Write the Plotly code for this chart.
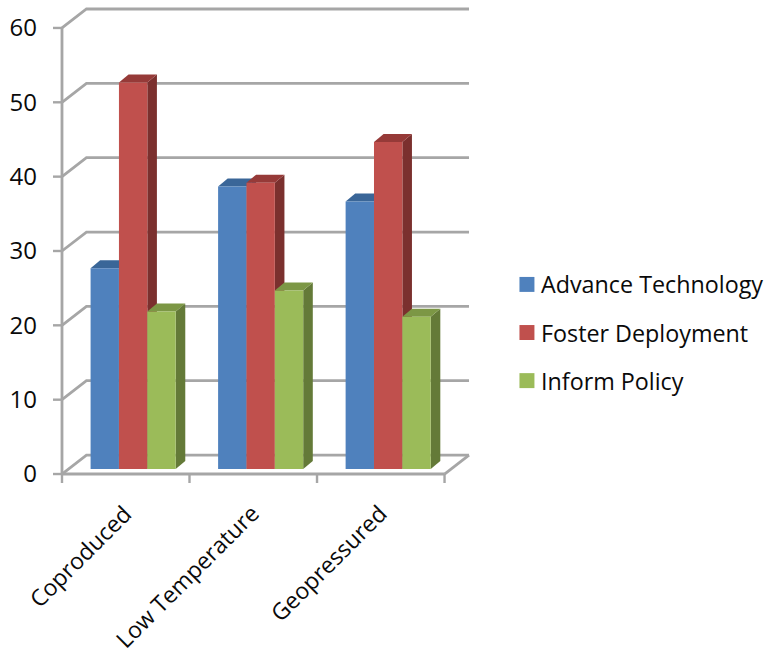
import plotly.graph_objects as go

# Chart data
categories = ["Coproduced", "Low Temperature", "Geopressured"]
series_names = ["Advance Technology", "Foster Deployment", "Inform Policy"]
advance_technology = [27, 38, 36]
foster_deployment = [52, 38.5, 44]
inform_policy = [21.2, 24, 20.5]
y_ticks = [0, 10, 20, 30, 40, 50, 60]

series_values = [advance_technology, foster_deployment, inform_policy]
front_colors = ["#4F81BD", "#C0504D", "#9BBB59"]
top_colors = ["#3A6698", "#963A38", "#7C9745"]
side_colors = ["#2F5585", "#7B302E", "#647A38"]

GRID = "#A6A6A6"
INK = "#0A0A0A"
FONT = "Open Sans"

# Canvas and plot frame, pixels
W, H = 767, 654
LEFT, BOTTOM_Y = 62.0, 474.5
CAT_PX, UNIT_PX = 383 / 3, 7.45
WALL_DX, WALL_DY = 24.5, 19.0  # depth of the floor
PAD_PX, PAD_TOP_PX, TICK_PX = 12.0, 4.0, 9.0  # room so box edges and ticks are not clipped

# Depth of the box in data units
n_cat = len(categories)
wall_x = WALL_DX / CAT_PX
wall_y = WALL_DY / UNIT_PX
x_max = n_cat + wall_x
y_max = 60 + wall_y
x_lo, x_hi = -PAD_PX / CAT_PX, x_max + PAD_PX / CAT_PX
y_lo, y_hi = -PAD_PX / UNIT_PX, y_max + PAD_TOP_PX / UNIT_PX

# Bar geometry in data units
bar_w = 28.4 / CAT_PX
cluster_shift = 7.4 / CAT_PX
base_y = 5.0 / UNIT_PX
depth_x = 9.6 / CAT_PX
depth_y = 8.0 / UNIT_PX
label_shift = 15.0 / CAT_PX

fig = go.Figure()


def line(xs, ys, width=2.8):
    fig.add_trace(go.Scatter(
        x=xs, y=ys, mode="lines", showlegend=False, hoverinfo="skip",
        line=dict(color=GRID, width=width),
    ))


# Back wall gridlines and their return along the side wall
for v in y_ticks:
    line([0, wall_x, x_max], [v, v + wall_y, v + wall_y])
# Floor edge on the right, front edge and vertical axis
line([n_cat, x_max], [0, wall_y])
line([0, n_cat], [0, 0])
line([0, 0], [0, 60])
# Tick marks along both axes
for v in y_ticks:
    line([-TICK_PX / CAT_PX, 0], [v, v], width=2.4)
for c in range(n_cat + 1):
    line([c, c], [-TICK_PX / UNIT_PX, 0], width=2.4)

# Top and side faces, painted from the left so nearer bars cover them
for c in range(n_cat):
    for s, values in enumerate(series_values):
        x0 = c + 0.5 + cluster_shift + (s - 1.5) * bar_w
        x1 = x0 + bar_w
        top = values[c] + base_y
        fig.add_trace(go.Scatter(
            x=[x1, x1 + depth_x, x1 + depth_x, x1, x1],
            y=[base_y, base_y + depth_y, top + depth_y, top, base_y],
            fill="toself", fillcolor=side_colors[s], mode="none",
            showlegend=False, hoverinfo="skip",
        ))
        fig.add_trace(go.Scatter(
            x=[x0, x0 + depth_x, x1 + depth_x, x1, x0],
            y=[top, top + depth_y, top + depth_y, top, top],
            fill="toself", fillcolor=top_colors[s], mode="none",
            showlegend=False, hoverinfo="skip",
        ))

# Front faces sit on an overlaying subplot so they cover every other face
for s, values in enumerate(series_values):
    fig.add_trace(go.Bar(
        x=[c + 0.5 + cluster_shift + (s - 1) * bar_w for c in range(n_cat)],
        y=values,
        base=[base_y] * n_cat,
        width=bar_w,
        name=series_names[s],
        marker=dict(color=front_colors[s], line=dict(width=0)),
        xaxis="x2", yaxis="y2", showlegend=False,
    ))

# Plot rectangle in pixels, padding included
plot_l = LEFT - PAD_PX
plot_r = LEFT + CAT_PX * x_max + PAD_PX
plot_b = BOTTOM_Y + PAD_PX
plot_t = BOTTOM_Y - UNIT_PX * y_max - PAD_TOP_PX


def paper_x(px):
    return (px - plot_l) / (plot_r - plot_l)


def paper_y(py):
    return (plot_b - py) / (plot_b - plot_t)


# Legend block to the right of the plot
shapes, annotations = [], []
for s, name in enumerate(series_names):
    cy = 284.5 + 48.2 * s
    shapes.append(dict(
        type="rect", xref="paper", yref="paper",
        x0=paper_x(520), x1=paper_x(535), y0=paper_y(cy + 7.5), y1=paper_y(cy - 7.5),
        fillcolor=front_colors[s], line=dict(width=0),
    ))
    annotations.append(dict(
        xref="paper", yref="paper", x=paper_x(540), y=paper_y(cy),
        xanchor="left", yanchor="middle", showarrow=False, text=name,
        font=dict(family=FONT, size=23.3, color=INK),
    ))

# Slanted category labels; the longest one runs close to the bottom of the canvas
for c, name in enumerate(categories):
    annotations.append(dict(
        xref="x", yref="paper", x=c + 0.5 + label_shift, y=paper_y(495.5),
        xanchor="right", yanchor="top", showarrow=False, text=name, textangle=-45,
        font=dict(family=FONT, size=23, color=INK),
    ))

fig.update_layout(
    width=W, height=H,
    margin=dict(l=plot_l, t=plot_t, r=W - plot_r, b=H - plot_b, pad=0),
    paper_bgcolor="white", plot_bgcolor="rgba(0,0,0,0)",
    barmode="overlay", showlegend=False,
    shapes=shapes, annotations=annotations,
    font=dict(family=FONT, size=23, color=INK),
    xaxis=dict(
        range=[x_lo, x_hi], showgrid=False, zeroline=False, showline=False,
        showticklabels=False, ticks="",
    ),
    yaxis=dict(
        range=[y_lo, y_hi], showgrid=False, zeroline=False, showline=False,
        tickmode="array", tickvals=y_ticks, ticks="", ticklabelstandoff=12,
        tickfont=dict(family=FONT, size=24, color=INK),
    ),
    xaxis2=dict(range=[x_lo, x_hi], overlaying="x", visible=False),
    yaxis2=dict(range=[y_lo, y_hi], overlaying="y", visible=False),
)

fig.write_html("out.html")
